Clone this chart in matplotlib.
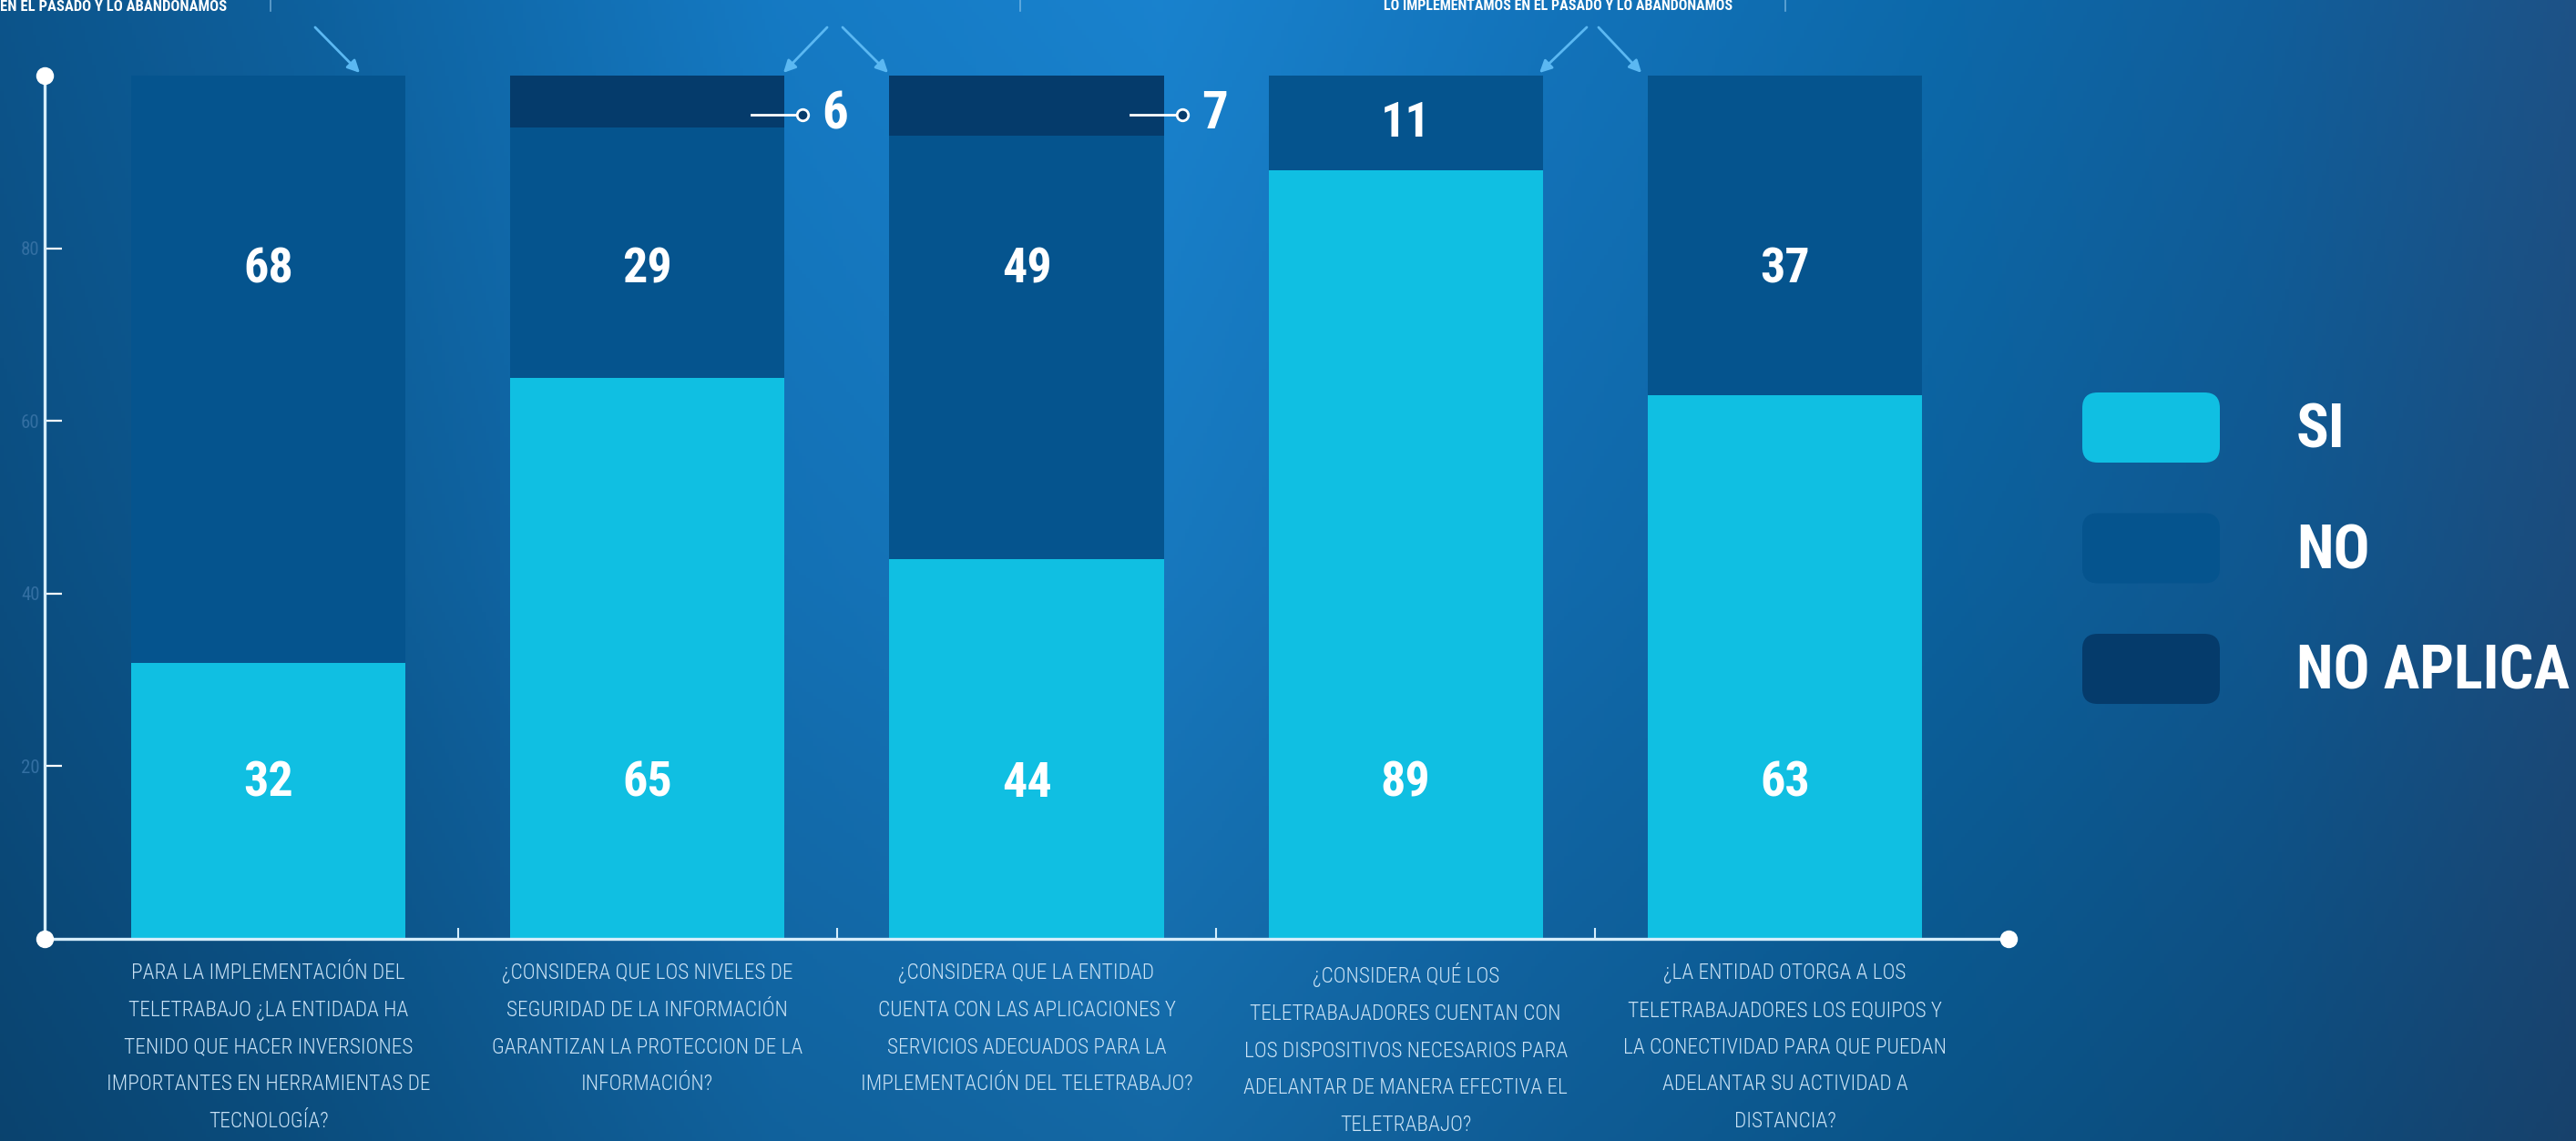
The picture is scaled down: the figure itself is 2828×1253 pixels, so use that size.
import numpy as np
import matplotlib.pyplot as plt
import matplotlib.font_manager as fm
from matplotlib.patches import FancyBboxPatch, FancyArrowPatch, Rectangle
from matplotlib.legend_handler import HandlerPatch
from matplotlib.lines import Line2D

# datos
preguntas = [
    "PARA LA IMPLEMENTACIÓN DEL\nTELETRABAJO ¿LA ENTIDADA HA\nTENIDO QUE HACER INVERSIONES\nIMPORTANTES EN HERRAMIENTAS DE\nTECNOLOGÍA?",
    "¿CONSIDERA QUE LOS NIVELES DE\nSEGURIDAD DE LA INFORMACIÓN\nGARANTIZAN LA PROTECCION DE LA\nINFORMACIÓN?",
    "¿CONSIDERA QUE LA ENTIDAD\nCUENTA CON LAS APLICACIONES Y\nSERVICIOS ADECUADOS PARA LA\nIMPLEMENTACIÓN DEL TELETRABAJO?",
    "¿CONSIDERA QUÉ LOS\nTELETRABAJADORES CUENTAN CON\nLOS DISPOSITIVOS NECESARIOS PARA\nADELANTAR DE MANERA EFECTIVA EL\nTELETRABAJO?",
    "¿LA ENTIDAD OTORGA A LOS\nTELETRABAJADORES LOS EQUIPOS Y\nLA CONECTIVIDAD PARA QUE PUEDAN\nADELANTAR SU ACTIVIDAD A\nDISTANCIA?",
]
si = [32, 65, 44, 89, 63]
no = [68, 29, 49, 11, 37]
no_aplica = [0, 6, 7, 0, 0]
series = ["SI", "NO", "NO APLICA"]
colores = ["#10bfe2", "#05548e", "#053b6b"]
yticks = [20, 40, 60, 80]

# fuente angosta si hay alguna instalada
fuentes = {(f.name, f.stretch) for f in fm.fontManager.ttflist}
nombres = {n for n, s in fuentes}
if "Roboto Condensed" in nombres:
    FAM, STR = ["Roboto Condensed", "DejaVu Sans"], "normal"
elif "Liberation Sans Narrow" in nombres:
    FAM, STR = ["Liberation Sans Narrow", "DejaVu Sans"], "normal"
elif ("DejaVu Sans", "condensed") in fuentes:
    FAM, STR = ["DejaVu Sans"], "condensed"
else:
    FAM, STR = ["DejaVu Sans"], "normal"

W, H = 2828, 1253
fig = plt.figure(figsize=(W / 100, H / 100), dpi=100)
renderer = fig.canvas.get_renderer()


def ancho_texto(s, size, weight):
    t = fig.text(0, 0, s, family=FAM, fontstretch=STR, weight=weight, fontsize=size)
    w = t.get_window_extent(renderer).width
    t.remove()
    return w


fs_ley = min(52, 48 * 300 / ancho_texto("NO APLICA", 48, "bold"))
fs_cat = min(17.5, 16 * 300 / ancho_texto("PARA LA IMPLEMENTACIÓN DEL", 16, "light"))

# fondo degradado
bg = fig.add_axes([0, 0, 1, 1], zorder=-10)
xs = np.linspace(0, 1, 700)
ys = np.linspace(0, 1, 300)
ax_pts = [0, .12, .3, .45, .6, .75, .88, 1.0]
r = np.interp(xs, ax_pts, [12, 13, 20, 24, 18, 12, 16, 28])
g = np.interp(xs, ax_pts, [80, 92, 116, 124, 110, 100, 90, 78])
b = np.interp(xs, ax_pts, [132, 150, 186, 196, 178, 162, 148, 128])
row = np.stack([r, g, b], axis=-1) / 255
mult = np.interp(ys, [0, .5, 1], [1.05, .97, .84])
img = np.clip(row[None, :, :] * mult[:, None, None], 0, 1)
bg.imshow(img, aspect="auto", extent=(0, 1, 0, 1))
bg.axis("off")

ax = fig.add_axes([49 / W, 1 - 1031 / H, (2205 - 49) / W, (1031 - 83) / H])
ax.patch.set_alpha(0)

x = np.arange(len(si))
ancho = 0.724
b1 = ax.bar(x, si, width=ancho, color=colores[0])
b2 = ax.bar(x, no, bottom=si, width=ancho, color=colores[1])
b3 = ax.bar(x, no_aplica, bottom=np.add(si, no), width=ancho, color=colores[2])

num = dict(family=FAM, fontstretch=STR, weight="bold", color="white", ha="center", va="center")
for i in x:
    y_si = 18 if si[i] > 18 else si[i] / 2
    ax.text(i, y_si, str(si[i]), fontsize=39, **num)
    lo, hi = si[i], si[i] + no[i]
    y_no = 77.5 if lo < 77.5 < hi else (lo + hi) / 2
    ax.text(i, y_no, str(no[i]), fontsize=39, **num)
    if no_aplica[i] > 0:
        y_na = 95.5 if hi < 95.5 else hi + no_aplica[i] / 2
        ax.plot([i + 0.275, i + 0.41], [y_na, y_na], color="white", lw=2, zorder=4)
        ax.plot([i + 0.41], [y_na], "o", ms=9, mfc=colores[2], mec="white", mew=2, zorder=5)
        ax.text(i + 0.495, y_na, str(no_aplica[i]), fontsize=41, **num)

ax.set_xlim(-0.59, 4.59)
ax.set_ylim(0, 100)
for s in ["top", "right"]:
    ax.spines[s].set_visible(False)
for s in ["left", "bottom"]:
    ax.spines[s].set_color("#d6eefc")
    ax.spines[s].set_linewidth(2.4)

ax.plot([0, 0, 1], [1, 0, 1e-9], "o", transform=ax.transAxes, clip_on=False,
        ms=13, color="white", zorder=6)

ax.set_yticks(yticks)
ax.set_yticklabels([str(v) for v in yticks], family=FAM, fontstretch=STR, fontsize=15, color="#336fa2")
ax.tick_params(axis="y", direction="in", length=14, width=1.6, color="white", pad=4)

ax.set_xticks(x)
ax.set_xticklabels(preguntas, family=FAM, fontstretch=STR, weight="light", fontsize=fs_cat,
                   color="#c9e2f5", linespacing=1.98)
ax.tick_params(axis="x", which="major", length=0, pad=19)
ax.set_xticks(x[:-1] + 0.5, minor=True)
ax.tick_params(axis="x", which="minor", direction="in", length=9, width=1.5, color="#d6eefc")


# leyenda con esquinas redondeadas
def caja(legend, orig_handle, xdescent, ydescent, width, height, fontsize):
    return FancyBboxPatch((-xdescent, -ydescent), width, height,
                          boxstyle="round,pad=0,rounding_size=%f" % (height * 0.22))


F = fs_ley * 100 / 72
hh = (77 / F - 0.245) / 0.65
ax.legend([b1.patches[0], b2.patches[0], b3.patches[0]], series,
          handler_map={Rectangle: HandlerPatch(patch_func=caja)},
          loc="upper left", bbox_to_anchor=(2286 / W, 1 - 431 / H), bbox_transform=fig.transFigure,
          frameon=False, borderpad=0, borderaxespad=0,
          prop=dict(family=FAM, stretch=STR, weight="bold", size=fs_ley), labelcolor="white",
          handlelength=151 / F, handleheight=hh, handletextpad=84 / F,
          labelspacing=(149 - hh * F) / F)

# restos del gráfico superior recortado
flechas = [((344, 28), (397, 82)), ((910, 28), (858, 82)), ((923, 28), (977, 82)),
           ((1744, 28), (1688, 82)), ((1753, 28), (1804, 82))]
for (x0, y0), (x1, y1) in flechas:
    fig.add_artist(FancyArrowPatch((x0 / W, 1 - y0 / H), (x1 / W, 1 - y1 / H),
                                   transform=fig.transFigure, arrowstyle="-|>,head_length=0.5,head_width=0.25",
                                   mutation_scale=16, color="#5bb8f2", lw=2))

top = dict(family=FAM, fontstretch=STR, weight="bold", color="white", va="bottom")
fig.text(0, 1 - 15 / H, "EN EL PASADO Y LO ABANDONAMOS", ha="left", fontsize=12, **top)
fig.text((1512 + 1909) / 2 / W, 1 - 14 / H, "LO IMPLEMENTAMOS EN EL PASADO Y LO ABANDONAMOS",
         ha="center", fontsize=11.5, **top)
for xv in [297, 1120, 1960]:
    fig.add_artist(Line2D([xv / W, xv / W], [1, 1 - 12 / H], transform=fig.transFigure,
                          color="#9fd0f2", lw=1.2, alpha=0.6))

fig.savefig("out.png", dpi=100)
